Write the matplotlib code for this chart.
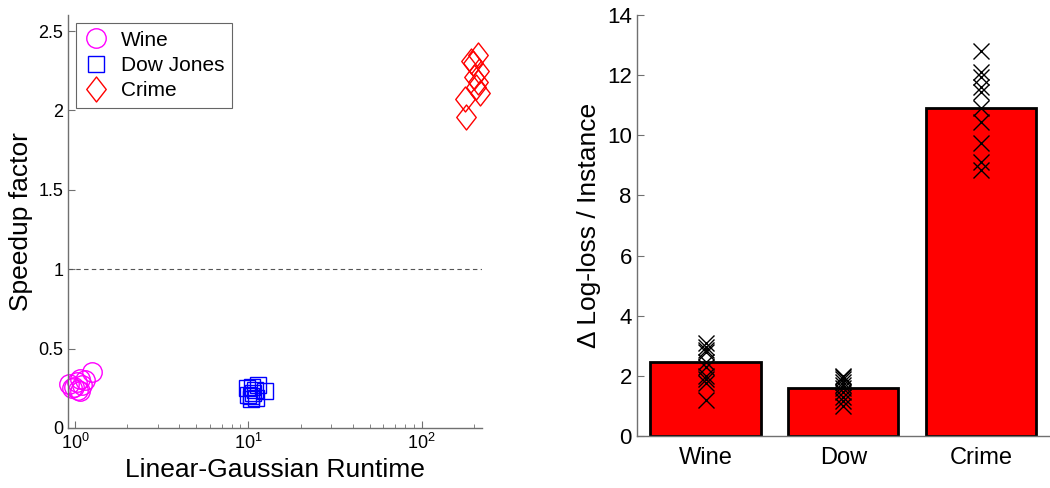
import numpy as np
import matplotlib
matplotlib.use('Agg')
import matplotlib.pyplot as plt
from matplotlib.path import Path

plt.rcParams['font.family'] = ['Liberation Sans', 'DejaVu Sans']
plt.rcParams['mathtext.fontset'] = 'custom'
plt.rcParams['mathtext.rm'] = 'Liberation Sans'
plt.rcParams['mathtext.it'] = 'Liberation Sans'

# left panel: runtime vs speedup
wine_x = [0.92, 0.98, 1.045, 1.07, 1.14, 1.25, 1.02, 1.10, 0.96, 1.06]
wine_y = [0.28, 0.26, 0.24, 0.31, 0.30, 0.35, 0.29, 0.27, 0.25, 0.23]
dow_x = [9.8, 11.4, 12.4, 10.4, 10.6, 10.0, 10.9, 10.3, 11.0, 10.5]
dow_y = [0.25, 0.27, 0.23, 0.20, 0.22, 0.21, 0.24, 0.18, 0.19, 0.26]
crime_x = [181, 177, 211, 215, 218, 198, 200, 212, 205, 192]
crime_y = [1.96, 2.07, 2.35, 2.25, 2.11, 2.30, 2.21, 2.18, 2.15, 2.31]

# right panel: log-loss difference per instance
datasets = ['Wine', 'Dow', 'Crime']
bar_heights = [2.45, 1.58, 10.9]
wine_ll = [3.1, 2.95, 2.85, 2.8, 2.45, 2.3, 2.0, 1.9, 1.75, 1.2]
dow_ll = [2.0, 1.95, 1.9, 1.8, 1.7, 1.6, 1.45, 1.3, 1.15, 1.0]
crime_ll = [12.8, 12.1, 11.95, 11.6, 11.45, 10.9, 10.45, 9.75, 9.1, 8.85]

axis_col = '#707070'
diamond = Path([(-0.39, 0), (0, 0.5), (0.39, 0), (0, -0.5), (-0.39, 0)],
               [Path.MOVETO, Path.LINETO, Path.LINETO, Path.LINETO, Path.CLOSEPOLY])

fig = plt.figure(figsize=(10.5, 4.88), dpi=100)

ax1 = fig.add_axes([0.0648, 0.123, 0.394, 0.846])
ax1.plot(wine_x, wine_y, 'o', mfc='none', mec='magenta', ms=14, mew=1, label='Wine',
         clip_on=False)
ax1.plot(dow_x, dow_y, 's', mfc='none', mec='blue', ms=12, mew=1, label='Dow Jones')
ax1.plot(crime_x, crime_y, marker=diamond, ls='none', mfc='none', mec='red', ms=18, mew=1,
         label='Crime', clip_on=False)
ax1.axhline(1, color='#555555', ls='--', lw=0.8, dashes=(4, 3))
ax1.set_xscale('log')
ax1.set_xlim(0.91, 222)
ax1.set_ylim(0, 2.6)
ax1.set_yticks([0, 0.5, 1, 1.5, 2, 2.5])
ax1.set_yticklabels(['0', '0.5', '1', '1.5', '2', '2.5'])
ax1.set_xlabel('Linear-Gaussian Runtime', fontsize=19)
ax1.set_ylabel('Speedup factor', fontsize=19)
leg = ax1.legend(loc='upper left', fontsize=15, frameon=True, fancybox=False,
                 edgecolor='#404040', borderaxespad=0.4, handlelength=1.2,
                 handletextpad=0.6, labelspacing=0.3, borderpad=0.35)
leg.get_frame().set_linewidth(0.8)

ax2 = fig.add_axes([0.6064, 0.1066, 0.3936, 0.8624])
pos = np.arange(1, len(datasets) + 1)
ax2.bar(pos, bar_heights, width=0.8, color='red', edgecolor='black', linewidth=2, zorder=2)
for p, vals in zip(pos, [wine_ll, dow_ll, crime_ll]):
    ax2.plot([p] * len(vals), vals, 'x', color='black', ms=12, mew=1, zorder=3)
ax2.set_xlim(0.5, 3.5)
ax2.set_ylim(0, 14)
ax2.set_xticks(pos)
ax2.set_xticklabels(datasets, fontsize=17)
ax2.set_yticks(range(0, 15, 2))
ax2.tick_params(axis='y', labelsize=16)
ax2.set_ylabel('Δ Log-loss / Instance', fontsize=19)

for ax in (ax1, ax2):
    ax.spines['top'].set_visible(False)
    ax.spines['right'].set_visible(False)
    for s in ('left', 'bottom'):
        ax.spines[s].set_color(axis_col)
        ax.spines[s].set_linewidth(1)
    ax.tick_params(direction='in', which='both', color=axis_col)
    ax.set_facecolor('none')
ax1.tick_params(axis='both', which='major', labelsize=13, length=5)
ax1.tick_params(axis='x', which='minor', length=3)
ax2.tick_params(axis='x', length=0, pad=8)
ax2.tick_params(axis='y', length=5)

fig.savefig('out.png', dpi=100)
